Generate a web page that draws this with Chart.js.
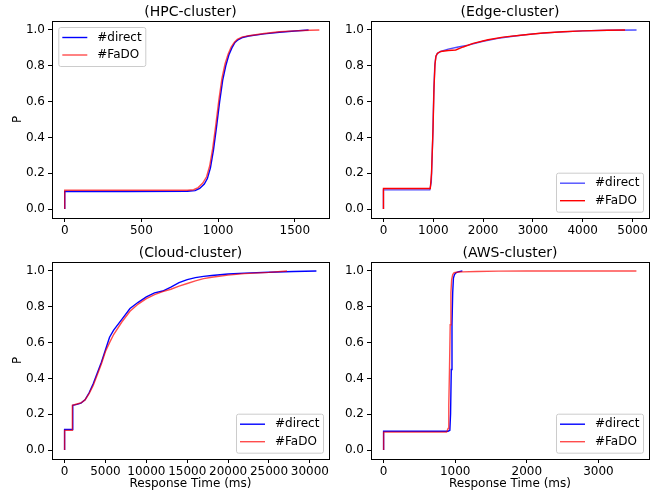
<!DOCTYPE html>
<html>
<head>
<meta charset="utf-8">
<script src="https://cdn.jsdelivr.net/npm/chart.js@4.4.1/dist/chart.umd.min.js"></script>
<style>
  body { margin: 0; background: #fff; }
  #wrap { position: relative; width: 660px; height: 493px; }
  #wrap canvas { position: absolute; left: 0; top: 0; }
</style>
</head>
<body>
<div id="wrap">
  <canvas id="hpc" width="660" height="493"></canvas>
  <canvas id="edge" width="660" height="493"></canvas>
  <canvas id="cloud" width="660" height="493"></canvas>
  <canvas id="aws" width="660" height="493"></canvas>
</div>
<script>
// ---- dados ----
const seriesNames = ['#direct', '#FaDO'];
const yTicks = [0, 0.2, 0.4, 0.6, 0.8, 1.0];

// HPC-cluster
const hpcTicks = [0, 500, 1000, 1500];
const hpcDirectX = [0, 0, 100, 400, 800, 850, 880, 910, 930, 950, 970, 990, 1010, 1030, 1050, 1070, 1090, 1110, 1130, 1160, 1200, 1300, 1400, 1500, 1590];
const hpcDirectY = [0, 0.098, 0.098, 0.098, 0.099, 0.103, 0.115, 0.14, 0.17, 0.23, 0.33, 0.46, 0.6, 0.72, 0.8, 0.86, 0.9, 0.93, 0.945, 0.958, 0.966, 0.978, 0.987, 0.994, 1.0];
const hpcFadoX = [0, 0, 800, 840, 870, 900, 925, 945, 965, 985, 1005, 1025, 1045, 1065, 1085, 1105, 1125, 1155, 1200, 1300, 1400, 1500, 1600, 1660];
const hpcFadoY = [0, 0.105, 0.105, 0.108, 0.12, 0.145, 0.18, 0.24, 0.34, 0.47, 0.61, 0.73, 0.81, 0.865, 0.905, 0.93, 0.948, 0.96, 0.968, 0.98, 0.99, 0.995, 0.998, 1.0];

// Edge-cluster
const edgeTicks = [0, 1000, 2000, 3000, 4000, 5000];
const edgeDirectX = [0, 0, 930, 960, 990, 1010, 1030, 1050, 1080, 1150, 1300, 1500, 1700, 2000, 2300, 2600, 3000, 3500, 4000, 4500, 5080];
const edgeDirectY = [0, 0.107, 0.107, 0.15, 0.4, 0.65, 0.8, 0.85, 0.868, 0.88, 0.893, 0.905, 0.915, 0.937, 0.953, 0.965, 0.978, 0.988, 0.995, 0.998, 1.0];
const edgeFadoX = [0, 0, 940, 965, 995, 1015, 1035, 1055, 1085, 1150, 1300, 1450, 1600, 1800, 2100, 2400, 2800, 3200, 3600, 4000, 4500, 4850];
const edgeFadoY = [0, 0.115, 0.115, 0.2, 0.45, 0.68, 0.81, 0.855, 0.87, 0.88, 0.885, 0.888, 0.905, 0.925, 0.945, 0.96, 0.972, 0.983, 0.99, 0.995, 0.998, 1.0];

// Cloud-cluster
const cloudTicks = [0, 5000, 10000, 15000, 20000, 25000, 30000];
const cloudDirectX = [0, 0, 1000, 1000, 1500, 2000, 2500, 3000, 3500, 4000, 4500, 5000, 5500, 6000, 7000, 8000, 9000, 10000, 11000, 12000, 13000, 14000, 15000, 16000, 17000, 18000, 20000, 22000, 25000, 28000, 30800];
const cloudDirectY = [0, 0.115, 0.115, 0.25, 0.255, 0.262, 0.28, 0.32, 0.37, 0.43, 0.49, 0.56, 0.63, 0.67, 0.73, 0.79, 0.825, 0.855, 0.878, 0.888, 0.91, 0.935, 0.952, 0.963, 0.97, 0.975, 0.983, 0.988, 0.993, 0.997, 1.0];
const cloudFadoX = [0, 0, 950, 950, 1500, 2000, 2500, 3000, 3500, 4000, 4500, 5000, 5500, 6000, 7000, 8000, 9000, 10000, 11000, 12000, 13000, 14000, 15000, 16000, 17000, 18000, 20000, 22000, 25000, 27200];
const cloudFadoY = [0, 0.11, 0.11, 0.25, 0.257, 0.263, 0.28, 0.315, 0.36, 0.42, 0.48, 0.55, 0.6, 0.645, 0.715, 0.775, 0.815, 0.845, 0.868, 0.885, 0.898, 0.915, 0.93, 0.945, 0.957, 0.965, 0.977, 0.985, 0.992, 1.0];

// AWS-cluster
const awsTicks = [0, 1000, 2000, 3000];
const awsDirectX = [0, 0, 900, 925, 935, 945, 955, 965, 975, 990, 1010, 1040, 1070, 1100];
const awsDirectY = [0, 0.105, 0.105, 0.11, 0.2, 0.45, 0.7, 0.88, 0.96, 0.98, 0.99, 0.995, 0.998, 1.0];
const awsFadoX = [0, 0, 880, 900, 910, 920, 930, 940, 950, 965, 985, 1020, 1100, 1300, 1600, 2000, 2500, 3000, 3530];
const awsFadoY = [0, 0.1, 0.1, 0.12, 0.25, 0.45, 0.7, 0.88, 0.95, 0.98, 0.99, 0.993, 0.995, 0.997, 0.999, 1.0, 1.0, 1.0, 1.0];

const FONT = '"DejaVu Sans", Arial, sans-serif';
const BLUE = 'rgb(0,0,255)', BLUE_A = 'rgba(0,0,255,0.7)';
const RED = 'rgb(255,0,0)', RED_A = 'rgba(255,0,0,0.7)';

function pts(xs, ys) {
    return xs.map((x, i) => ({ x: x, y: ys[i] }));
}

// Moldura, título, rótulos e legenda desenhados por cima
const framePlugin = {
    id: 'frame',
    afterDraw(chart, args, opts) {
        const a = chart.chartArea;
        const ctx = chart.ctx;
        ctx.save();
        ctx.strokeStyle = '#000';
        ctx.lineWidth = 1;
        ctx.strokeRect(Math.round(a.left) + 0.5, Math.round(a.top) + 0.5, Math.round(a.right - a.left), Math.round(a.bottom - a.top));

        ctx.fillStyle = '#000';
        ctx.textAlign = 'center';
        ctx.textBaseline = 'middle';
        ctx.font = '14px ' + FONT;
        ctx.fillText(opts.title, (a.left + a.right) / 2, a.top - 8.5);

        ctx.font = '12px ' + FONT;
        if (opts.ylabel) {
            ctx.save();
            ctx.translate(18, (a.top + a.bottom) / 2);
            ctx.rotate(-Math.PI / 2);
            ctx.fillText('P', 0, 0);
            ctx.restore();
        }
        if (opts.xlabel) {
            ctx.fillText('Response Time (ms)', (a.left + a.right) / 2, a.bottom + 25);
        }

        // legenda
        const w = 87, h = 39;
        let bx, by;
        if (opts.legend === 'upper left') {
            bx = a.left + 6.3; by = a.top + 6;
        } else {
            bx = a.right - 6 - w; by = a.bottom - 6.3 - h;
        }
        ctx.fillStyle = 'rgba(255,255,255,0.8)';
        ctx.strokeStyle = '#ccc';
        ctx.beginPath();
        ctx.roundRect(bx + 0.5, by + 0.5, w, h, 2);
        ctx.fill();
        ctx.stroke();
        const ds = chart.data.datasets;
        ds.forEach((d, i) => {
            const yy = by + 10.5 + i * 17.5;
            ctx.strokeStyle = d.borderColor;
            ctx.lineWidth = 1.4;
            ctx.beginPath();
            ctx.moveTo(bx + 4, yy);
            ctx.lineTo(bx + 29, yy);
            ctx.stroke();
            ctx.fillStyle = '#000';
            ctx.textAlign = 'left';
            ctx.fillText(d.label, bx + 39, yy);
        });
        ctx.restore();
    }
};

function makeChart(id, cfg) {
    const yW = 40, xH = 30;
    const ctx = document.getElementById(id).getContext('2d');
    return new Chart(ctx, {
        type: 'line',
        data: {
            datasets: [{
                label: seriesNames[0],
                data: pts(cfg.dx, cfg.dy),
                borderColor: cfg.directColor,
                borderWidth: 1.4,
                order: 1
            }, {
                label: seriesNames[1],
                data: pts(cfg.fx, cfg.fy),
                borderColor: cfg.fadoColor,
                borderWidth: 1.4,
                order: 0
            }]
        },
        options: {
            responsive: false,
            animation: false,
            events: [],
            elements: { point: { radius: 0 }, line: { tension: 0 } },
            layout: {
                padding: {
                    left: cfg.area.l - yW,
                    right: 660 - cfg.area.r,
                    top: cfg.area.t,
                    bottom: 493 - cfg.area.b - xH
                }
            },
            plugins: {
                legend: { display: false },
                tooltip: { enabled: false },
                frame: { title: cfg.title, ylabel: cfg.ylabel, xlabel: cfg.xlabel, legend: cfg.legend }
            },
            scales: {
                x: {
                    type: 'linear',
                    min: cfg.xMin,
                    max: cfg.xMax,
                    afterBuildTicks: s => { s.ticks = cfg.xTicks.map(v => ({ value: v })); },
                    afterFit: s => { s.height = xH; },
                    grid: { drawOnChartArea: false, drawTicks: true, tickLength: 4, color: '#000' },
                    border: { display: true, color: '#000' },
                    ticks: {
                        color: '#000', font: { family: FONT, size: 12 }, padding: 2, maxRotation: 0,
                        autoSkip: false, callback: v => String(v)
                    }
                },
                y: {
                    min: -0.05,
                    max: 1.05,
                    afterBuildTicks: s => { s.ticks = yTicks.map(v => ({ value: v })); },
                    afterFit: s => { s.width = yW; },
                    grid: { drawOnChartArea: false, drawTicks: true, tickLength: 4, color: '#000' },
                    border: { display: true, color: '#000' },
                    ticks: {
                        color: '#000', font: { family: FONT, size: 12 }, padding: 3,
                        callback: v => Number(v).toFixed(1)
                    }
                }
            }
        },
        plugins: [framePlugin]
    });
}

document.addEventListener('DOMContentLoaded', function() {
    makeChart('hpc', {
        title: '(HPC-cluster)', ylabel: true, xlabel: false, legend: 'upper left',
        area: { l: 52, r: 329, t: 21, b: 218 },
        xMin: -83, xMax: 1723, xTicks: hpcTicks,
        dx: hpcDirectX, dy: hpcDirectY, fx: hpcFadoX, fy: hpcFadoY,
        directColor: BLUE, fadoColor: RED_A
    });
    makeChart('edge', {
        title: '(Edge-cluster)', ylabel: false, xlabel: false, legend: 'lower right',
        area: { l: 371, r: 649, t: 21, b: 218 },
        xMin: -250, xMax: 5330, xTicks: edgeTicks,
        dx: edgeDirectX, dy: edgeDirectY, fx: edgeFadoX, fy: edgeFadoY,
        directColor: BLUE_A, fadoColor: RED
    });
    makeChart('cloud', {
        title: '(Cloud-cluster)', ylabel: true, xlabel: true, legend: 'lower right',
        area: { l: 52, r: 329, t: 262, b: 459 },
        xMin: -1540, xMax: 32340, xTicks: cloudTicks,
        dx: cloudDirectX, dy: cloudDirectY, fx: cloudFadoX, fy: cloudFadoY,
        directColor: BLUE, fadoColor: RED_A
    });
    makeChart('aws', {
        title: '(AWS-cluster)', ylabel: false, xlabel: true, legend: 'lower right',
        area: { l: 371, r: 649, t: 262, b: 459 },
        xMin: -176, xMax: 3706, xTicks: awsTicks,
        dx: awsDirectX, dy: awsDirectY, fx: awsFadoX, fy: awsFadoY,
        directColor: BLUE, fadoColor: RED_A
    });
});
</script>
</body>
</html>
